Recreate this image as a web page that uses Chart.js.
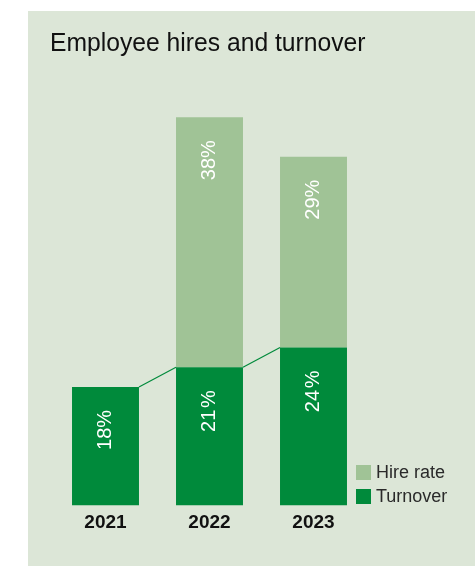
<!DOCTYPE html>
<html>
<head>
<meta charset="utf-8">
<script src="https://cdn.jsdelivr.net/npm/chart.js@4/dist/chart.umd.min.js"></script>
<style>
  html, body { margin: 0; padding: 0; background: #fff; }
  #panel {
    position: absolute;
    left: 28px;
    top: 11px;
    width: 447px;
    height: 555px;
    background: #dce6d7;
  }
  #chart { display: block; }
</style>
</head>
<body>
<div id="panel">
  <canvas id="chart" width="447" height="555"></canvas>
</div>
<script>
const years = ['2021', '2022', '2023'];
const turnover = [18, 21, 24];
const hireRate = [0, 38, 29];
const turnoverLabels = ['18%', '21\u200A%', '24\u200A%'];
const hireLabels = ['', '38%', '29%'];

const darkGreen = '#008a3b';
const lightGreen = '#a0c396';
const fontFamily = '"Liberation Sans", Arial, Helvetica, sans-serif';

// rotated white percentage labels, anchored near the top of each segment
const barLabels = {
  id: 'barLabels',
  afterDatasetsDraw(chart) {
    const ctx = chart.ctx;
    const texts = [turnoverLabels, hireLabels];
    ctx.save();
    ctx.fillStyle = '#ffffff';
    ctx.font = '20px ' + fontFamily;
    ctx.textAlign = 'right';
    ctx.textBaseline = 'middle';
    chart.data.datasets.forEach((ds, di) => {
      const meta = chart.getDatasetMeta(di);
      meta.data.forEach((bar, i) => {
        const txt = texts[di][i];
        if (!txt) return;
        ctx.save();
        ctx.translate(bar.x, bar.y + 23);
        ctx.rotate(-Math.PI / 2);
        ctx.fillText(txt, 0, 0);
        ctx.restore();
      });
    });
    ctx.restore();
  }
};

// thin line joining the tops of the turnover bars
const turnoverLinks = {
  id: 'turnoverLinks',
  afterDatasetsDraw(chart) {
    const ctx = chart.ctx;
    const bars = chart.getDatasetMeta(0).data;
    ctx.save();
    ctx.strokeStyle = darkGreen;
    ctx.lineWidth = 1.2;
    for (let i = 0; i < bars.length - 1; i++) {
      const a = bars[i], b = bars[i + 1];
      ctx.beginPath();
      ctx.moveTo(a.x + a.width / 2, a.y);
      ctx.lineTo(b.x - b.width / 2, b.y);
      ctx.stroke();
    }
    ctx.restore();
  }
};

// legend box in the lower right corner, hire rate on top
const sideLegend = {
  id: 'sideLegend',
  afterDraw(chart) {
    const ctx = chart.ctx;
    const items = [chart.data.datasets[1], chart.data.datasets[0]];
    const x = 328, y0 = 454, step = 24;
    ctx.save();
    ctx.font = '18px ' + fontFamily;
    ctx.textAlign = 'left';
    ctx.textBaseline = 'middle';
    items.forEach((ds, i) => {
      const y = y0 + i * step;
      ctx.fillStyle = ds.backgroundColor;
      ctx.fillRect(x, y, 15, 15);
      ctx.fillStyle = '#2a2a2a';
      ctx.fillText(ds.label, x + 20, y + 8);
    });
    ctx.restore();
  }
};

new Chart(document.getElementById('chart'), {
  type: 'bar',
  data: {
    labels: years,
    datasets: [
      {
        label: 'Turnover',
        data: turnover,
        backgroundColor: darkGreen,
        categoryPercentage: 1,
        barPercentage: 0.644
      },
      {
        label: 'Hire rate',
        data: hireRate,
        backgroundColor: lightGreen,
        categoryPercentage: 1,
        barPercentage: 0.644
      }
    ]
  },
  options: {
    responsive: false,
    animation: false,
    layout: {
      padding: { left: 22, right: 109.5, top: 0, bottom: 26.6 }
    },
    plugins: {
      legend: { display: false },
      tooltip: { enabled: false },
      title: {
        display: true,
        text: 'Employee hires and turnover',
        align: 'start',
        color: '#111111',
        font: { family: fontFamily, size: 25, weight: 'normal' },
        padding: { top: 18, bottom: 51.6 }
      }
    },
    scales: {
      x: {
        stacked: true,
        grid: { display: false, drawTicks: false },
        border: { display: false },
        ticks: {
          color: '#111111',
          padding: 5.6,
          font: { family: fontFamily, size: 19, weight: 'bold' }
        }
      },
      y: {
        stacked: true,
        min: 0,
        max: 60,
        grid: { display: false, drawTicks: false },
        border: { display: false },
        ticks: { display: false },
        afterFit(scale) { scale.width = 3.5; }
      }
    }
  },
  plugins: [barLabels, turnoverLinks, sideLegend]
});
</script>
</body>
</html>
